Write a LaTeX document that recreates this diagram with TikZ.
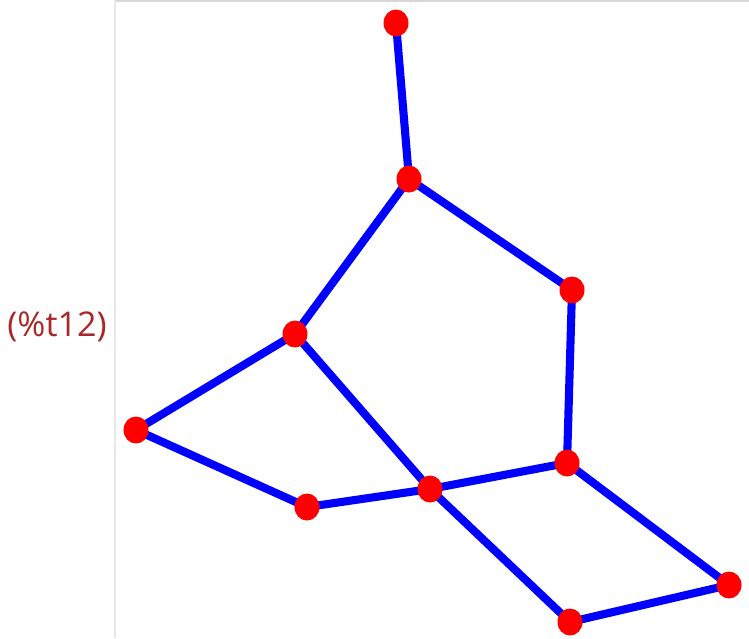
\documentclass[tikz,border=0pt]{standalone}
\usepackage{fontspec}
\setmainfont{Open Sans}
\usetikzlibrary{positioning, backgrounds}
\definecolor{labelred}{RGB}{168,40,40}
\definecolor{framegray}{RGB}{215,215,215}
\tikzset{
  vertex/.style={ellipse, fill=red, inner sep=0pt, minimum width=0.25cm, minimum height=0.27cm},
  edge/.style={draw=blue, line width=2.3pt},
  outlabel/.style={text=labelred, font=\fontsize{9.7}{12}\selectfont, inner sep=0pt}
}
\usetikzlibrary{shapes.geometric}

\begin{document}
\begin{tikzpicture}[x=0.01cm, y=-0.01cm]

  \useasboundingbox (0,0) rectangle (749,638);
  \draw [framegray, line width=0.4pt] (115,1) -- (749,1);
  \draw [framegray!60, line width=0.3pt] (115,1) -- (115,638);

  \node (lbl) [outlabel] at (57,327) {(\%t12)};

  \node (a) [vertex] at (396,23) {};
  \node (b) [vertex] at (409,179) {};
  \node (c) [vertex] at (572,290) {};
  \node (d) [vertex] at (295,334) {};
  \node (e) [vertex] at (136,430) {};
  \node (f) [vertex] at (567,463) {};
  \node (g) [vertex] at (430,489) {};
  \node (h) [vertex] at (307,507) {};
  \node (i) [vertex] at (729,585) {};
  \node (j) [vertex] at (570,622) {};

  \begin{pgfonlayer}{background}
    \draw [edge] (a.center) -- (b.center);
    \draw [edge] (b.center) -- (c.center);
    \draw [edge] (b.center) -- (d.center);
    \draw [edge] (c.center) -- (f.center);
    \draw [edge] (d.center) -- (e.center);
    \draw [edge] (d.center) -- (g.center);
    \draw [edge] (e.center) -- (h.center);
    \draw [edge] (h.center) -- (g.center);
    \draw [edge] (g.center) -- (f.center);
    \draw [edge] (g.center) -- (j.center);
    \draw [edge] (f.center) -- (i.center);
    \draw [edge] (i.center) -- (j.center);
  \end{pgfonlayer}

\end{tikzpicture}
\end{document}
